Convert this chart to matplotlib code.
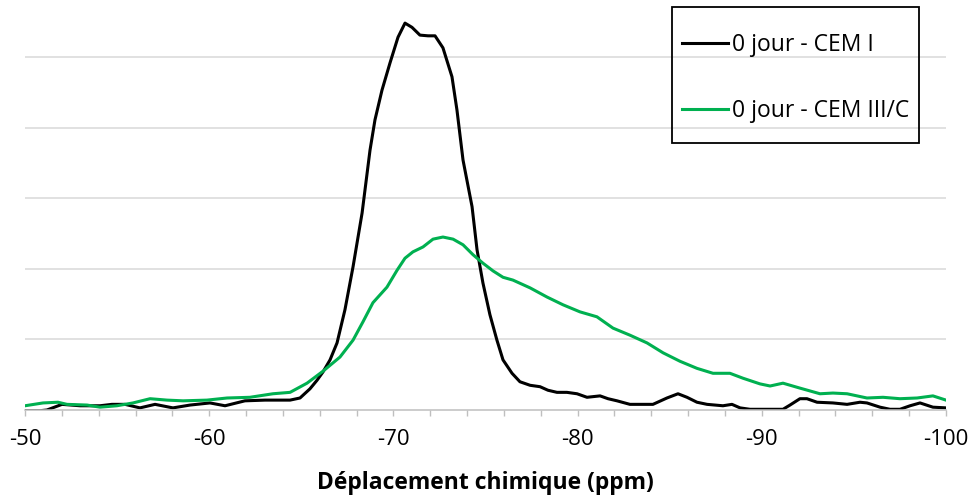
import matplotlib
matplotlib.use("Agg")
import matplotlib.pyplot as plt
from matplotlib.patches import Rectangle
from matplotlib.ticker import MultipleLocator

plt.rcParams['font.family'] = ['Open Sans', 'DejaVu Sans']

# Chemical shift (ppm) and intensity (arbitrary units, gridline spacing = 1)
ppm_cem1 = [-50.0, -50.81, -51.19, -52.01, -52.99, -54.07, -54.72, -55.43, -56.24, -57.06,
            -58.03, -58.96, -60.04, -60.86, -61.94, -63.03, -64.39, -64.93, -65.47, -65.85,
            -66.18, -66.56, -66.94, -67.37, -67.81, -68.30, -68.73, -69.00, -69.38, -69.82,
            -70.25, -70.63, -71.01, -71.44, -71.88, -72.26, -72.69, -73.18, -73.45, -73.78,
            -74.27, -74.54, -74.86, -75.24, -75.62, -75.95, -76.44, -76.87, -77.42, -77.96,
            -78.39, -78.88, -79.42, -79.97, -80.51, -81.22, -81.65, -82.14, -82.84, -83.39,
            -84.09, -84.85, -85.45, -85.94, -86.48, -87.03, -87.46, -87.89, -88.38, -88.82,
            -89.36, -90.28, -91.15, -91.53, -92.07, -92.45, -93.00, -93.86, -94.63, -95.33,
            -95.71, -96.42, -96.96, -97.50, -98.05, -98.59, -99.29, -100.0]
int_cem1 = [-0.01, -0.01, 0.00, 0.08, 0.06, 0.06, 0.08, 0.08, 0.03, 0.08,
            0.03, 0.07, 0.10, 0.06, 0.13, 0.14, 0.14, 0.17, 0.30, 0.42,
            0.54, 0.71, 0.95, 1.42, 2.03, 2.79, 3.68, 4.11, 4.53, 4.92,
            5.28, 5.48, 5.42, 5.31, 5.30, 5.30, 5.13, 4.72, 4.25, 3.54,
            2.88, 2.27, 1.80, 1.35, 0.99, 0.71, 0.52, 0.40, 0.35, 0.33,
            0.28, 0.25, 0.25, 0.23, 0.18, 0.20, 0.16, 0.13, 0.08, 0.08,
            0.08, 0.17, 0.23, 0.18, 0.11, 0.08, 0.07, 0.06, 0.08, 0.03,
            0.01, 0.01, 0.01, 0.07, 0.16, 0.16, 0.11, 0.10, 0.08, 0.11,
            0.10, 0.04, 0.01, 0.01, 0.06, 0.10, 0.04, 0.03]

ppm_cem3 = [-50.00, -50.98, -51.79, -52.28, -53.37, -54.07, -54.99, -55.86, -56.79, -57.71,
            -58.58, -59.88, -60.97, -62.21, -63.46, -64.39, -65.31, -66.18, -67.10, -67.81,
            -68.35, -68.89, -69.65, -70.20, -70.63, -71.06, -71.61, -72.15, -72.69, -73.24,
            -73.78, -74.32, -74.86, -75.41, -75.95, -76.49, -77.42, -78.34, -79.21, -80.13,
            -81.05, -81.92, -82.84, -83.77, -84.64, -85.56, -86.48, -87.35, -88.27, -88.98,
            -89.90, -90.45, -91.15, -92.07, -93.16, -93.86, -94.63, -95.71, -96.58, -97.50,
            -98.43, -99.29, -100.00]
int_cem3 = [0.06, 0.10, 0.11, 0.08, 0.07, 0.04, 0.06, 0.10, 0.16, 0.14,
            0.13, 0.14, 0.17, 0.18, 0.23, 0.25, 0.38, 0.55, 0.75, 0.99,
            1.25, 1.52, 1.74, 1.98, 2.15, 2.24, 2.31, 2.42, 2.45, 2.42,
            2.34, 2.20, 2.08, 1.97, 1.88, 1.84, 1.73, 1.60, 1.49, 1.39,
            1.32, 1.16, 1.06, 0.95, 0.81, 0.69, 0.59, 0.52, 0.52, 0.45,
            0.37, 0.34, 0.38, 0.31, 0.23, 0.24, 0.23, 0.17, 0.18, 0.16,
            0.17, 0.20, 0.14]

labels = ["0 jour - CEM I", "0 jour - CEM III/C"]
colors = ["#000000", "#00B050"]
xlabel = "Déplacement chimique (ppm)"
xticks = [-50, -60, -70, -80, -90, -100]

W, H = 973, 500
fig = plt.figure(figsize=(W / 100, H / 100), dpi=100)
ax = fig.add_axes([25 / W, 1 - 410 / H, (946 - 25) / W, 410 / H])

l1, = ax.plot(ppm_cem1, int_cem1, color=colors[0], lw=2.2, solid_joinstyle='round', zorder=3)
l2, = ax.plot(ppm_cem3, int_cem3, color=colors[1], lw=2.2, solid_joinstyle='round', zorder=3)

ax.set_xlim(-50, -100)
ax.set_ylim(0, 410 / 70.6)
ax.set_yticks([1, 2, 3, 4, 5])
ax.yaxis.grid(True, color="#D9D9D9", lw=1.1)
ax.set_axisbelow(True)
ax.tick_params(axis='y', left=False, labelleft=False)

ax.set_xticks(xticks)
ax.set_xticklabels([str(t) for t in xticks])
ax.xaxis.set_minor_locator(MultipleLocator(2))
ax.tick_params(axis='x', which='both', direction='out', length=4, width=1,
               color="#BFBFBF", labelsize=16, pad=10)
for s in ['left', 'right', 'top']:
    ax.spines[s].set_visible(False)
ax.spines['bottom'].set_color("#BFBFBF")
ax.spines['bottom'].set_linewidth(1.1)
ax.spines['bottom'].set_zorder(4)

ax.set_xlabel(xlabel, fontsize=16.5, fontweight='bold', labelpad=15)

# Legend
leg = fig.legend([l1, l2], labels, loc='upper left',
                 bbox_to_anchor=(682 / W, 1 - 33 / H), bbox_transform=fig.transFigure,
                 frameon=False, fontsize=16.5, handlelength=2.0, handletextpad=0.2,
                 labelspacing=1.85, borderpad=0, borderaxespad=0)
for ln in leg.get_lines():
    ln.set_linewidth(2.2)
fig.patches.append(Rectangle((672 / W, 1 - 143 / H), (919 - 672) / W, (143 - 7) / H,
                             transform=fig.transFigure, fill=False, edgecolor='black',
                             lw=1.3, zorder=5))

fig.savefig("out.png", dpi=100)
